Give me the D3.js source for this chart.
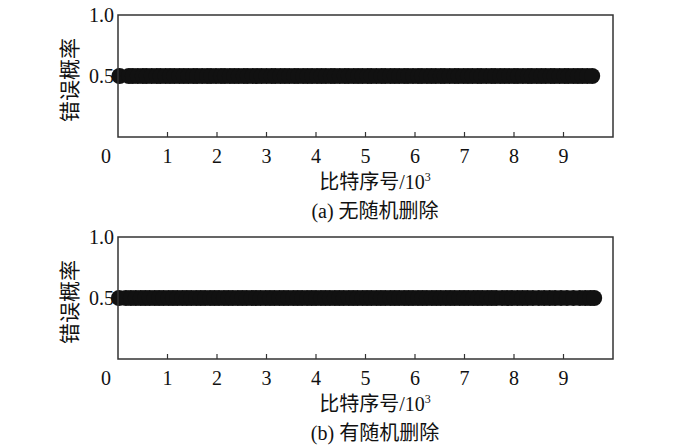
<!DOCTYPE html>
<html>
<head>
<meta charset="utf-8">
<script src="https://cdn.jsdelivr.net/npm/d3@7"></script>
<style>
  body { margin: 0; background: #fff; }
  svg text { font-family: "Liberation Serif", "Noto Sans CJK SC", serif; fill: #111; }
</style>
</head>
<body>
<script>
// bit index (x10^3) of each erroneous bit, error probability 0.5
var bitsA = [0.03, 0.22, 0.30, 0.40, 0.50, 0.58, 0.68, 0.78, 0.86, 0.96, 1.05, 1.14, 1.24, 1.33, 1.42, 1.52, 1.60, 1.70, 1.80, 1.88, 1.98, 2.08, 2.16, 2.26, 2.35, 2.44, 2.54, 2.62, 2.72, 2.81, 2.90, 3.00, 3.10, 3.18, 3.28, 3.37, 3.46, 3.56, 3.64, 3.74, 3.83, 3.92, 4.02, 4.11, 4.20, 4.30, 4.38, 4.48, 4.58, 4.66, 4.76, 4.85, 4.94, 5.04, 5.12, 5.22, 5.32, 5.40, 5.50, 5.59, 5.68, 5.78, 5.86, 5.96, 6.06, 6.14, 6.24, 6.33, 6.42, 6.52, 6.60, 6.70, 6.80, 6.88, 6.98, 7.07, 7.16, 7.26, 7.34, 7.44, 7.54, 7.62, 7.72, 7.81, 7.90, 8.00, 8.08, 8.18, 8.28, 8.36, 8.46, 8.55, 8.64, 8.74, 8.82, 8.92, 9.02, 9.10, 9.20, 9.29, 9.38, 9.48, 9.58];
var bitsB = [0.02, 0.16, 0.26, 0.36, 0.46, 0.55, 0.64, 0.74, 0.83, 0.92, 1.02, 1.11, 1.20, 1.30, 1.39, 1.48, 1.58, 1.67, 1.76, 1.86, 1.95, 2.04, 2.14, 2.23, 2.32, 2.42, 2.51, 2.60, 2.70, 2.79, 2.88, 2.98, 3.07, 3.16, 3.26, 3.35, 3.44, 3.54, 3.63, 3.72, 3.82, 3.91, 4.00, 4.10, 4.19, 4.28, 4.38, 4.47, 4.56, 4.66, 4.75, 4.84, 4.94, 5.03, 5.12, 5.22, 5.31, 5.40, 5.50, 5.59, 5.68, 5.78, 5.87, 5.96, 6.06, 6.15, 6.24, 6.34, 6.43, 6.52, 6.62, 6.71, 6.80, 6.90, 6.99, 7.08, 7.18, 7.27, 7.36, 7.46, 7.55, 7.64, 7.76, 7.86, 7.96, 8.07, 8.17, 8.27, 8.38, 8.50, 8.61, 8.72, 8.83, 8.95, 9.07, 9.20, 9.33, 9.44, 9.54, 9.62];
var xTicks = [0, 1, 2, 3, 4, 5, 6, 7, 8, 9];
var yTicks = [0.5, 1.0];
var yLabel = "错误概率";
var xLabel = "比特序号/10";
var captions = ["(a) 无随机删除", "(b) 有随机删除"];

var W = 700, H = 448;
var svg = d3.select("body").append("svg").attr("width", W).attr("height", H);

var panels = [
  { bits: bitsA, top: 15, caption: captions[0] },
  { bits: bitsB, top: 237, caption: captions[1] }
];

var left = 118, right = 613, ph = 122;
var x = d3.scaleLinear().domain([0, 10]).range([left, right]);

panels.forEach(function(p) {
  var y = d3.scaleLinear().domain([0, 1]).range([p.top + ph, p.top]);
  var g = svg.append("g");

  // dots
  g.selectAll("circle")
    .data(p.bits)
    .enter()
    .append("circle")
    .attr("cx", function(d) { return x(d); })
    .attr("cy", y(0.5))
    .attr("r", 8)
    .attr("fill", "#111");

  // frame
  g.append("rect")
    .attr("x", left).attr("y", p.top)
    .attr("width", right - left).attr("height", ph)
    .attr("fill", "none").attr("stroke", "#333").attr("stroke-width", 1.5);

  // x ticks (inward)
  g.selectAll("line.xt")
    .data(xTicks.slice(1))
    .enter()
    .append("line")
    .attr("x1", function(d) { return x(d); })
    .attr("x2", function(d) { return x(d); })
    .attr("y1", p.top + ph)
    .attr("y2", p.top + ph - 5)
    .attr("stroke", "#333").attr("stroke-width", 1.2);

  g.selectAll("text.xl")
    .data(xTicks)
    .enter()
    .append("text")
    .attr("x", function(d) { return d === 0 ? x(d) - 12 : x(d); })
    .attr("y", p.top + ph + 26)
    .attr("text-anchor", "middle")
    .attr("font-size", 20)
    .text(function(d) { return d; });

  g.selectAll("text.yl")
    .data(yTicks)
    .enter()
    .append("text")
    .attr("x", left - 4)
    .attr("y", function(d) { return y(d) + 7; })
    .attr("text-anchor", "end")
    .attr("font-size", 20)
    .text(function(d) { return d.toFixed(1); });

  g.append("text")
    .attr("transform", "translate(77," + (p.top + 65) + ") rotate(-90)")
    .attr("text-anchor", "middle")
    .attr("font-size", 21)
    .text(yLabel);

  var t = g.append("text")
    .attr("x", 375)
    .attr("y", p.top + ph + 52)
    .attr("text-anchor", "middle")
    .attr("font-size", 20);
  t.append("tspan").text(xLabel);
  t.append("tspan").attr("font-size", 12).attr("dy", -8).text("3");

  g.append("text")
    .attr("x", 375)
    .attr("y", p.top + ph + 81)
    .attr("text-anchor", "middle")
    .attr("font-size", 20)
    .text(p.caption);
});
</script>
</body>
</html>
